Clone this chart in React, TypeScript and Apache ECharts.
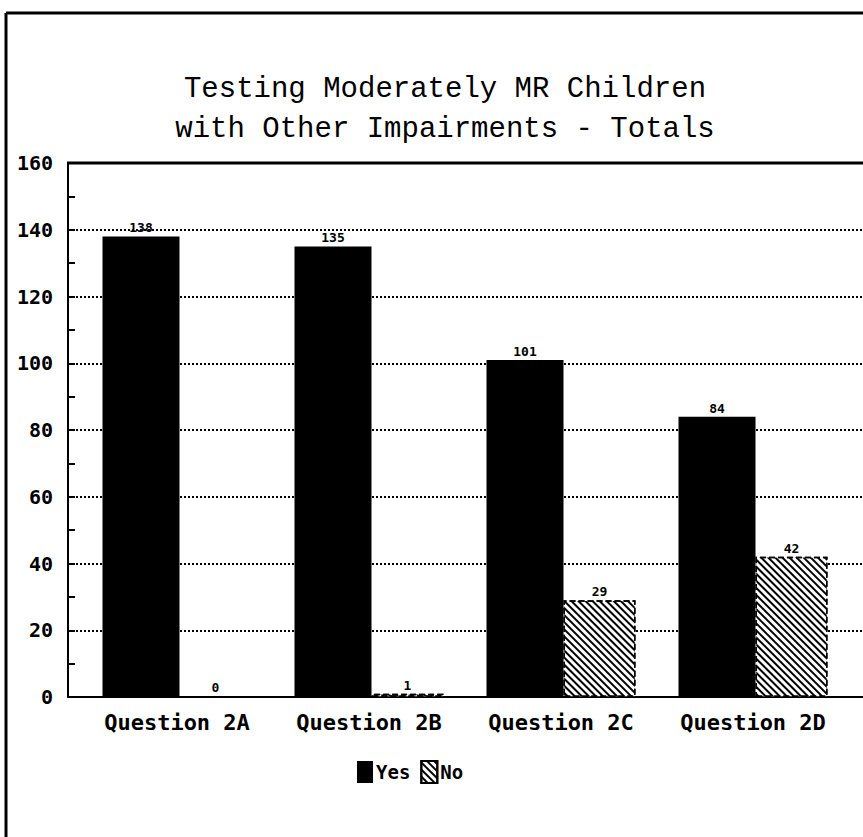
import React, { useEffect, useRef } from "react";
import * as echarts from "echarts";

const categories = ["Question 2A", "Question 2B", "Question 2C", "Question 2D"];
const yesValues = [138, 135, 101, 84];
const noValues = [0, 1, 29, 42];
const titleLines = ["Testing Moderately MR Children", "with Other Impairments - Totals"];
const seriesNames = ["Yes", "No"];

const MONO = "'DejaVu Sans Mono', monospace";

export default function App() {
  const ref = useRef<HTMLDivElement>(null);
  useEffect(() => {
    if (!ref.current) return;
    const chart = echarts.init(ref.current, null, { renderer: "svg" });
    const top = 163;
    const bottom = 140;
    chart.setOption({
      animation: false,
      backgroundColor: "#fff",
      title: {
        text: titleLines.join("\n"),
        left: 440,
        textAlign: "center",
        top: 64,
        textStyle: {
          fontFamily: "'Liberation Mono', monospace",
          fontWeight: "normal",
          fontSize: 29,
          lineHeight: 40,
          color: "#000",
        },
      },
      legend: {
        left: 352,
        top: 755,
        itemWidth: 16,
        itemHeight: 22,
        itemGap: 10,
        icon: "rect",
        data: seriesNames,
        textStyle: { fontFamily: MONO, fontWeight: "bold", fontSize: 19, color: "#000", padding: [0, 0, 0, -2] },
      },
      graphic: [
        { type: "line", shape: { x1: 6, y1: 13, x2: 6, y2: 837 }, style: { stroke: "#000", lineWidth: 3 } },
        { type: "line", shape: { x1: 6, y1: 13, x2: 863, y2: 13 }, style: { stroke: "#000", lineWidth: 3 } },
        { type: "line", z: 100, shape: { x1: 67, y1: 163, x2: 863, y2: 163 }, style: { stroke: "#000", lineWidth: 3 } },
      ],
      grid: [
        { left: 68, right: 0, top, bottom, containLabel: false },
        { left: 81, width: 768, top, bottom, containLabel: false },
      ],
      xAxis: [
        {
          gridIndex: 0,
          type: "value",
          min: 0,
          max: 1,
          position: "bottom",
          axisLine: { show: true, lineStyle: { color: "#000", width: 2 } },
          axisTick: { show: false },
          axisLabel: { show: false },
          splitLine: { show: false },
        },
        {
          gridIndex: 1,
          type: "category",
          data: categories,
          axisLine: { show: false },
          axisTick: { show: false },
          axisLabel: {
            margin: 14,
            fontFamily: MONO,
            fontWeight: "bold",
            fontSize: 22,
            color: "#000",
          },
        },
      ],
      yAxis: [
        {
          gridIndex: 0,
          type: "value",
          position: "left",
          min: 0,
          max: 160,
          interval: 20,
          axisLine: { show: true, lineStyle: { color: "#000", width: 2 } },
          axisTick: { show: false },
          axisLabel: {
            margin: 15,
            fontFamily: MONO,
            fontWeight: "bold",
            fontSize: 20,
            color: "#000",
          },
          splitLine: { show: true, lineStyle: { color: "#000", width: 2, type: [2, 2] } },
        },
        {
          gridIndex: 1,
          type: "value",
          min: 0,
          max: 160,
          interval: 20,
          show: false,
          splitLine: { show: false },
        },
        {
          gridIndex: 0,
          type: "value",
          position: "left",
          offset: 0,
          min: 0,
          max: 160,
          interval: 10,
          axisLine: { show: false },
          axisTick: { show: true, inside: true, length: 7, lineStyle: { color: "#000", width: 2 } },
          axisLabel: { show: false },
          splitLine: { show: false },
        },
      ],
      series: [
        {
          name: seriesNames[0],
          type: "bar",
          xAxisIndex: 1,
          yAxisIndex: 1,
          data: yesValues,
          barWidth: 77,
          barGap: "0%",
          itemStyle: { color: "#000" },
          label: {
            show: true,
            position: "top",
            distance: 2,
            fontFamily: MONO,
            fontWeight: "bold",
            fontSize: 13,
            color: "#000",
          },
        },
        {
          name: seriesNames[1],
          type: "bar",
          xAxisIndex: 1,
          yAxisIndex: 1,
          data: noValues,
          barWidth: 72,
          barGap: "0%",
          itemStyle: {
            color: "#fff",
            borderColor: "#000",
            borderWidth: 1.5,
            borderType: "dashed",
            decal: {
              symbol: "rect",
              symbolSize: 1,
              color: "#000",
              backgroundColor: "#fff",
              dashArrayX: [1, 0],
              dashArrayY: [2, 2.5],
              rotation: Math.PI / 4,
            },
          },
          label: {
            show: true,
            position: "top",
            distance: 2,
            fontFamily: MONO,
            fontWeight: "bold",
            fontSize: 13,
            color: "#000",
          },
        },
      ],
    });
    return () => chart.dispose();
  }, []);
  return (
    <div
      ref={ref}
      style={{ position: "fixed", left: 0, top: 0, width: 863, height: 837 }}
    />
  );
}
